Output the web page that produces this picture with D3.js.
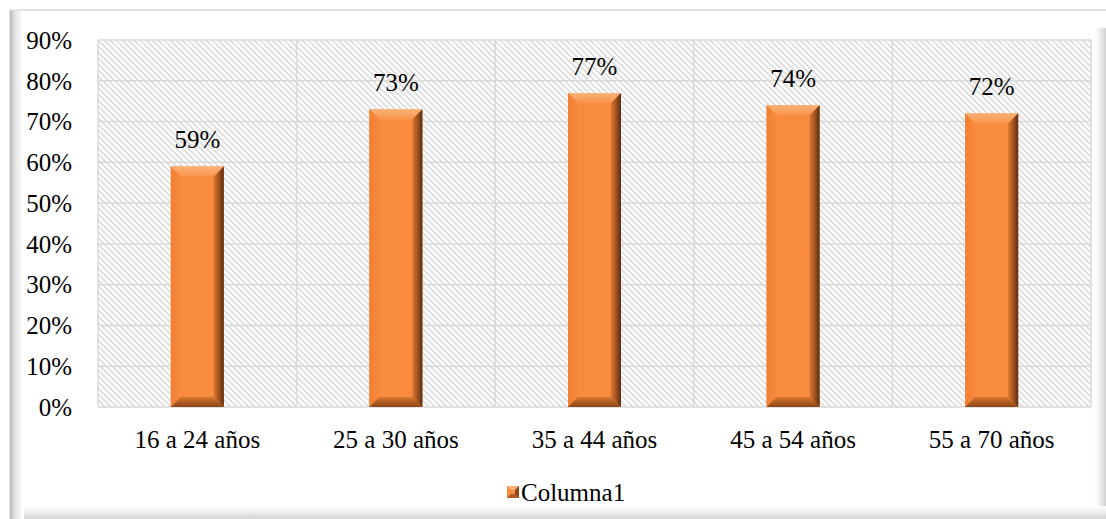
<!DOCTYPE html>
<html>
<head>
<meta charset="utf-8">
<script src="https://cdn.jsdelivr.net/npm/d3@7"></script>
<style>
  body { margin: 0; background: #fff; }
</style>
</head>
<body>
<svg id="chart"></svg>
<script>
// data
var categories = ['16 a 24 años', '25 a 30 años', '35 a 44 años', '45 a 54 años', '55 a 70 años'];
var values = [0.59, 0.73, 0.77, 0.74, 0.72];
var yTicks = [0, 0.1, 0.2, 0.3, 0.4, 0.5, 0.6, 0.7, 0.8, 0.9];
var seriesName = 'Columna1';

var svgwidth = 1106, svgheight = 519;
var margins = { top: 40, bottom: 112, left: 98, right: 15 };
var width = svgwidth - margins.left - margins.right;
var height = svgheight - margins.top - margins.bottom;
var font = '"Liberation Serif", "Times New Roman", serif';
var fsize = '25px';

var svg = d3.select('#chart').attr('width', svgwidth).attr('height', svgheight);
var defs = svg.append('defs');

// hatch for the plot background
var pat = defs.append('pattern').attr('id', 'hatch')
  .attr('patternUnits', 'userSpaceOnUse').attr('width', 6).attr('height', 6);
pat.append('rect').attr('width', 6).attr('height', 6).attr('fill', '#fff');
pat.append('path').attr('d', 'M-1,-1 L7,7 M-1,5 L1,7 M5,-1 L7,1')
  .attr('stroke', '#dcdcdc').attr('stroke-width', 1.6);

function lin(id, x2, y2, stops) {
  var g = defs.append('linearGradient').attr('id', id)
    .attr('x1', 0).attr('y1', 0).attr('x2', x2).attr('y2', y2);
  stops.forEach(function(s) { g.append('stop').attr('offset', s[0]).attr('stop-color', s[1]); });
}
lin('leftEdge', 1, 0, [[0, '#b8b8b8'], [0.4, '#e4e4e4'], [1, '#ffffff']]);
lin('rightEdge', 1, 0, [[0, '#ffffff'], [0.6, '#e6e6e6'], [1, '#d0d0d0']]);
lin('bottomEdge', 0, 1, [[0, '#ffffff'], [0.5, '#ececec'], [1, '#d4d4d4']]);
lin('barRight', 1, 0, [[0, '#d9772f'], [0.5, '#a45422'], [1, '#5a2c10']]);
lin('barTop', 0, 1, [[0, '#fbb27a'], [1, '#f8954a']]);
lin('barBottom', 0, 1, [[0, '#d8762f'], [1, '#8a4519']]);
lin('barLeft', 1, 0, [[0, '#f07f33'], [1, '#f78a3d']]);

// chart frame with soft bevel
svg.append('rect').attr('x', 10).attr('y', 10).attr('width', 1100).attr('height', 515)
  .attr('fill', '#fff').attr('stroke', '#d9d9d9').attr('stroke-width', 1.5);
svg.append('rect').attr('x', 10).attr('y', 11).attr('width', 13).attr('height', 510)
  .attr('fill', 'url(#leftEdge)');
svg.append('rect').attr('x', 1095).attr('y', 28).attr('width', 11).attr('height', 492)
  .attr('fill', 'url(#rightEdge)');
svg.append('rect').attr('x', 24).attr('y', 506).attr('width', 1082).attr('height', 13)
  .attr('fill', 'url(#bottomEdge)');

var x = d3.scaleBand().domain(categories).range([0, width]).paddingInner(0).paddingOuter(0);
var y = d3.scaleLinear().domain([0, 0.9]).range([height, 0]);
var barW = 53;

var plot = svg.append('g').attr('transform', 'translate(' + margins.left + ',' + margins.top + ')')
  .style('font-family', font).style('font-size', fsize);

plot.append('rect').attr('width', width).attr('height', height).attr('fill', 'url(#hatch)');

// gridlines
plot.selectAll('.hgrid').data(yTicks).enter().append('line')
  .attr('x1', 0).attr('x2', width)
  .attr('y1', function(d) { return y(d); }).attr('y2', function(d) { return y(d); })
  .attr('stroke', '#d9d9d9').attr('stroke-width', 1.5);
plot.selectAll('.vgrid').data(categories.concat(['end'])).enter().append('line')
  .attr('x1', function(d, i) { return i * x.bandwidth(); })
  .attr('x2', function(d, i) { return i * x.bandwidth(); })
  .attr('y1', 0).attr('y2', height)
  .attr('stroke', '#d9d9d9').attr('stroke-width', 1.5);

// y axis labels
plot.selectAll('.ylab').data(yTicks).enter().append('text')
  .attr('x', -26).attr('y', function(d) { return y(d); }).attr('dy', '0.35em')
  .attr('text-anchor', 'end')
  .text(d3.format('.0%'));

// bevelled bars
var bars = plot.selectAll('.bar').data(values).enter().append('g')
  .attr('transform', function(d, i) {
    return 'translate(' + (x(categories[i]) + x.bandwidth() / 2 - barW / 2) + ',' + y(d) + ')';
  });
bars.append('rect').attr('width', barW).attr('height', function(d) { return height - y(d); })
  .attr('fill', '#f88b3e');
var bev = 10;
bars.append('path').attr('fill', 'url(#barTop)')
  .attr('d', 'M0,0 L' + barW + ',0 L' + (barW - bev) + ',' + bev + ' L' + bev + ',' + bev + ' Z');
bars.append('path').attr('fill', 'url(#barLeft)')
  .attr('d', function(d) {
    var h = height - y(d);
    return 'M0,0 L' + bev + ',' + bev + ' L' + bev + ',' + (h - bev) + ' L0,' + h + ' Z';
  });
bars.append('path').attr('fill', 'url(#barRight)')
  .attr('d', function(d) {
    var h = height - y(d);
    return 'M' + barW + ',0 L' + (barW - bev) + ',' + bev + ' L' + (barW - bev) + ',' + (h - bev) + ' L' + barW + ',' + h + ' Z';
  });
bars.append('path').attr('fill', 'url(#barBottom)')
  .attr('d', function(d) {
    var h = height - y(d);
    return 'M0,' + h + ' L' + bev + ',' + (h - bev) + ' L' + (barW - bev) + ',' + (h - bev) + ' L' + barW + ',' + h + ' Z';
  });

// value labels
plot.selectAll('.vlab').data(values).enter().append('text')
  .attr('x', function(d, i) { return x(categories[i]) + x.bandwidth() / 2; })
  .attr('y', function(d) { return y(d) - 18; })
  .attr('text-anchor', 'middle')
  .text(d3.format('.0%'));

// category labels
plot.selectAll('.xlab').data(categories).enter().append('text')
  .attr('x', function(d) { return x(d) + x.bandwidth() / 2; })
  .attr('y', height + 41)
  .attr('text-anchor', 'middle')
  .text(function(d) { return d; });

// legend
var legend = svg.append('g').attr('transform', 'translate(507,486)')
  .style('font-family', font).style('font-size', fsize);
legend.append('rect').attr('width', 12).attr('height', 12).attr('fill', '#f88b3e');
legend.append('path').attr('d', 'M0,0 L12,0 L8,4 L4,4 Z').attr('fill', '#fbb27a');
legend.append('path').attr('d', 'M12,0 L12,12 L8,8 L8,4 Z').attr('fill', '#8a4519');
legend.append('path').attr('d', 'M0,12 L12,12 L8,8 L4,8 Z').attr('fill', '#b05a22');
legend.append('text').attr('x', 14).attr('y', 6).attr('dy', '0.35em')
  .text(seriesName);
</script>
</body>
</html>
